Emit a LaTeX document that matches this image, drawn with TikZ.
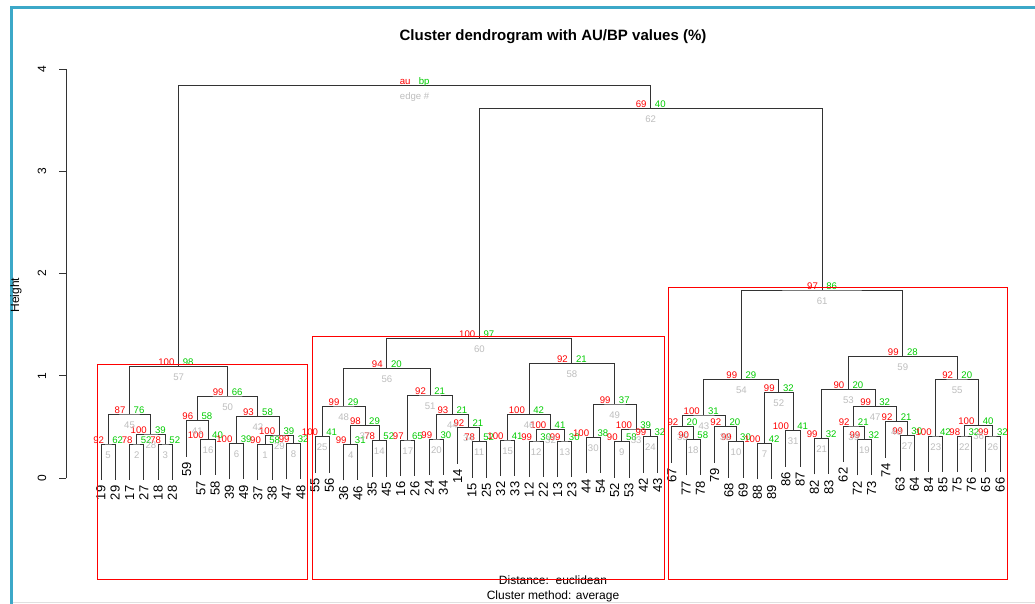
\documentclass[tikz,border=0pt]{standalone}
\usepackage{fontspec}
\setmainfont{Liberation Sans}
\usetikzlibrary{calc}
\definecolor{aured}{RGB}{255,0,0}
\definecolor{bpgreen}{RGB}{0,205,0}
\definecolor{edgegray}{RGB}{190,190,190}
\definecolor{frameteal}{RGB}{60,168,200}
\pgfdeclarelayer{bg}
\pgfdeclarelayer{lines}
\pgfsetlayers{bg,lines,main}
\tikzset{
  dline/.style={draw=black!80, line width=1pt},
  pvfont/.style={font=\fontsize{9.6}{10}\selectfont, inner sep=0pt},
  aulab/.style={pvfont, text=aured, anchor=base east},
  bplab/.style={pvfont, text=bpgreen, anchor=base west},
  edlab/.style={pvfont, text=edgegray, anchor=base},
  leaflab/.style={font=\fontsize{13}{14}\selectfont, rotate=90, anchor=east, inner sep=0pt},
  axlab/.style={font=\fontsize{12}{14}\selectfont, inner sep=0pt},
  clbox/.style={draw=red, line width=0.9pt},
}
\newcommand\leaf[3]{%
  \coordinate (L#1) at ({101+14.27*#2},-#3);
  \node[leaflab] (L#1t) at ([yshift=-5.5pt]L#1) {#1};
}
\newcommand\mrg[7]{%
  \path let \p1=(#2), \p2=(#3) in ({0.5*\x1+0.5*\x2},{-#4pt}) coordinate (#1);
  \begin{pgfonlayer}{lines}
  \draw[dline] (#2) |- (#1) -| (#3);
  \end{pgfonlayer}
  \node[aulab] (#1a) at ([shift={(-4pt,1pt)}]#1) {#5};
  \node[bplab] (#1b) at ([shift={(4pt,1pt)}]#1) {#6};
  \node[edlab] (#1e) at ([yshift=-14pt]#1) {#7};
}
\begin{document}
\begin{tikzpicture}[x=1pt,y=1pt]
\useasboundingbox (0,0) rectangle (1035,-604);
\begin{pgfonlayer}{bg}
\fill[white] (0,0) rectangle (1035,-604);
\end{pgfonlayer}
% frame
\draw[frameteal, line width=3pt] (11,-604) -- (11,-7.5) -- (1035,-7.5);
\draw[black!12, line width=0.8pt] (12.5,-602) -- (1035,-602);

% title and captions
\node[font=\fontsize{15}{17}\selectfont\bfseries, inner sep=0pt] (title) at (553,-37) {Cluster dendrogram with AU/BP values (\%)};
\node[axlab] (dist) at (553,-580) {Distance:\ \ euclidean};
\node[axlab] (meth) at (553,-596) {Cluster method: average};
\node[axlab, rotate=90] (hlab) at (16,-295) {Height};

% axis
\coordinate (ax0) at (66,-478);
\coordinate (ax4) at (66,-69);
\draw[black!80, line width=0.9pt] (ax0) -- (ax4);
\foreach \k in {0,...,4}{
  \coordinate (tk\k) at (66,{-478+102.25*\k});
  \draw[black!80, line width=0.9pt] (tk\k) -- ++(-7,0);
  \node[axlab, rotate=90] (tl\k) at ([xshift=-24pt]tk\k) {\k};
}

% leaves
\leaf{19}{0}{480}
\leaf{29}{1}{480}
\leaf{17}{2}{480}
\leaf{27}{3}{480}
\leaf{18}{4}{480}
\leaf{28}{5}{480}
\leaf{59}{6}{456.7}
\leaf{57}{7}{475.3}
\leaf{58}{8}{475.3}
\leaf{39}{9}{479.3}
\leaf{49}{10}{479.3}
\leaf{37}{11}{480.3}
\leaf{38}{12}{480.3}
\leaf{47}{13}{479.3}
\leaf{48}{14}{479.3}
\leaf{55}{15}{472.7}
\leaf{56}{16}{472.7}
\leaf{36}{17}{480.3}
\leaf{46}{18}{480.3}
\leaf{35}{19}{476.7}
\leaf{45}{20}{476.7}
\leaf{16}{21}{476}
\leaf{26}{22}{476}
\leaf{24}{23}{475}
\leaf{34}{24}{475}
\leaf{14}{25}{463.7}
\leaf{15}{26}{477.7}
\leaf{25}{27}{477.7}
\leaf{32}{28}{476}
\leaf{33}{29}{476}
\leaf{12}{30}{477}
\leaf{22}{31}{477}
\leaf{13}{32}{477}
\leaf{23}{33}{477}
\leaf{44}{34}{473.3}
\leaf{54}{35}{473.3}
\leaf{52}{36}{477.7}
\leaf{53}{37}{477.7}
\leaf{42}{38}{472.7}
\leaf{43}{39}{472.7}
\leaf{67}{40}{462.7}
\leaf{77}{41}{475.3}
\leaf{78}{42}{475.3}
\leaf{79}{43}{462.7}
\leaf{68}{44}{477.7}
\leaf{69}{45}{477.7}
\leaf{88}{46}{479.3}
\leaf{89}{47}{479.3}
\leaf{86}{48}{466.7}
\leaf{87}{49}{466.7}
\leaf{82}{50}{474.3}
\leaf{83}{51}{474.3}
\leaf{62}{52}{462}
\leaf{72}{53}{475.3}
\leaf{73}{54}{475.3}
\leaf{74}{55}{457.7}
\leaf{63}{56}{471.3}
\leaf{64}{57}{471.3}
\leaf{84}{58}{472}
\leaf{85}{59}{472}
\leaf{75}{60}{472}
\leaf{76}{61}{472}
\leaf{65}{62}{472}
\leaf{66}{63}{472}

% left cluster
\mrg{E5}{L19}{L29}{444}{92}{62}{5}
\mrg{E2}{L17}{L27}{444}{78}{52}{2}
\mrg{E3}{L18}{L28}{444}{78}{52}{3}
\mrg{E28}{E2}{E3}{434}{100}{39}{28}
\mrg{E45}{E5}{E28}{414}{87}{76}{45}
\mrg{E16}{L57}{L58}{439.3}{100}{40}{16}
\mrg{E41}{L59}{E16}{420.7}{96}{58}{41}
\mrg{E6}{L39}{L49}{443.3}{100}{39}{6}
\mrg{E1}{L37}{L38}{444.3}{90}{58}{1}
\mrg{E8}{L47}{L48}{443.3}{99}{32}{8}
\mrg{E29}{E1}{E8}{435}{100}{39}{29}
\mrg{E42}{E6}{E29}{416.7}{93}{58}{42}
\mrg{E50}{E41}{E42}{396}{99}{66}{50}
\mrg{E57}{E45}{E50}{366.7}{100}{98}{57}

% middle cluster
\mrg{E25}{L55}{L56}{436.7}{100}{41}{25}
\mrg{E4}{L36}{L46}{444.3}{99}{31}{4}
\mrg{E14}{L35}{L45}{440.7}{78}{52}{14}
\mrg{E37}{E4}{E14}{425.7}{98}{29}{37}
\mrg{E48}{E25}{E37}{406}{99}{29}{48}
\mrg{E17}{L16}{L26}{440}{97}{65}{17}
\mrg{E20}{L24}{L34}{439}{99}{30}{20}
\mrg{E11}{L15}{L25}{441.7}{78}{52}{11}
\mrg{E34}{L14}{E11}{427.7}{92}{21}{34}
\mrg{E44}{E20}{E34}{414.3}{93}{21}{44}
\mrg{E51}{E17}{E44}{395}{92}{21}{51}
\mrg{E56}{E48}{E51}{368.3}{94}{20}{56}
\mrg{E15}{L32}{L33}{440}{100}{41}{15}
\mrg{E12}{L12}{L22}{441}{99}{30}{12}
\mrg{E13}{L13}{L23}{441}{99}{30}{13}
\mrg{E32}{E12}{E13}{429.3}{100}{41}{32}
\mrg{E46}{E15}{E32}{414.3}{100}{42}{46}
\mrg{E30}{L44}{L54}{437.3}{100}{38}{30}
\mrg{E9}{L52}{L53}{441.7}{90}{58}{9}
\mrg{E24}{L42}{L43}{436.7}{99}{32}{24}
\mrg{E33}{E9}{E24}{429}{100}{39}{33}
\mrg{E49}{E30}{E33}{404}{99}{37}{49}
\mrg{E58}{E46}{E49}{363.3}{92}{21}{58}
\mrg{E60}{E56}{E58}{338.3}{100}{97}{60}

% right cluster
\mrg{E18}{L77}{L78}{439.3}{90}{58}{18}
\mrg{E35}{L67}{E18}{426.7}{92}{20}{35}
\mrg{E10}{L68}{L69}{441.7}{99}{30}{10}
\mrg{E38}{L79}{E10}{426.7}{92}{20}{38}
\mrg{E43}{E35}{E38}{415}{100}{31}{43}
\mrg{E7}{L88}{L89}{443.3}{100}{42}{7}
\mrg{E31}{L86}{L87}{430.7}{100}{41}{31}
\mrg{E52}{E7}{E31}{392.3}{99}{32}{52}
\mrg{E54}{E43}{E52}{379.3}{99}{29}{54}
\mrg{E21}{L82}{L83}{438.3}{99}{32}{21}
\mrg{E19}{L72}{L73}{439.3}{99}{32}{19}
\mrg{E39}{L62}{E19}{426}{92}{21}{39}
\mrg{E27}{L63}{L64}{435.3}{99}{30}{27}
\mrg{E40}{L74}{E27}{421.7}{92}{21}{40}
\mrg{E47}{E39}{E40}{406.7}{99}{32}{47}
\mrg{E53}{E21}{E47}{389.3}{90}{20}{53}
\mrg{E23}{L84}{L85}{436}{100}{42}{23}
\mrg{E22}{L75}{L76}{436}{98}{32}{22}
\mrg{E26}{L65}{L66}{436}{99}{32}{26}
\mrg{E36}{E22}{E26}{425.7}{100}{40}{36}
\mrg{E55}{E23}{E36}{379}{92}{20}{55}
\mrg{E59}{E53}{E55}{356.7}{99}{28}{59}
\mrg{E61}{E54}{E59}{290}{97}{86}{61}

% top
\mrg{E62}{E60}{E61}{108.3}{69}{40}{62}
\mrg{E63}{E57}{E62}{85.3}{au}{bp}{edge \#}

% cluster boxes
\draw[clbox] (97.5,-364.3) rectangle (307.5,-579) coordinate (boxA);
\draw[clbox] (312.3,-336) rectangle (664.5,-579) coordinate (boxB);
\draw[clbox] (668.3,-287.3) rectangle (1007.5,-579) coordinate (boxC);
\end{tikzpicture}
\end{document}
